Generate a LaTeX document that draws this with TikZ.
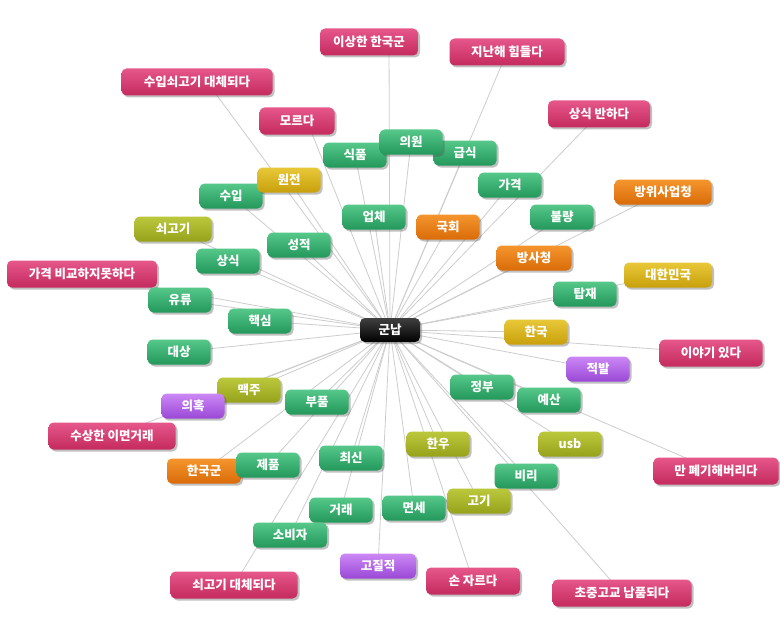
\documentclass[tikz,border=0pt]{standalone}
\usepackage{fontspec}
\setmainfont{Noto Sans CJK KR}
\usetikzlibrary{shadows,backgrounds}
\pgfdeclarelayer{bottom}
\pgfsetlayers{bottom,background,main}
\definecolor{gnT}{HTML}{55C88A}\definecolor{gnB}{HTML}{23985A}
\definecolor{pkT}{HTML}{E6578A}\definecolor{pkB}{HTML}{C42A5E}
\definecolor{orT}{HTML}{F5952E}\definecolor{orB}{HTML}{D96C08}
\definecolor{ylT}{HTML}{E8C838}\definecolor{ylB}{HTML}{C8A00C}
\definecolor{olT}{HTML}{BCC83C}\definecolor{olB}{HTML}{96A21A}
\definecolor{puT}{HTML}{CC88F5}\definecolor{puB}{HTML}{9A48D6}
\definecolor{edgegray}{HTML}{CDCDCD}
\tikzset{
  tag/.style={rounded corners=5pt, minimum height=25pt, minimum width=63pt, inner sep=2pt,
    text=white, font=\fontsize{12.5}{13}\selectfont\bfseries,
    drop shadow={shadow xshift=2pt, shadow yshift=-2pt, opacity=0.35, fill=black!70}},
  gn/.style={tag, top color=gnT, bottom color=gnB},
  pk/.style={tag, top color=pkT, bottom color=pkB, minimum height=27pt},
  orn/.style={tag, top color=orT, bottom color=orB},
  yl/.style={tag, top color=ylT, bottom color=ylB},
  ol/.style={tag, top color=olT, bottom color=olB},
  pu/.style={tag, top color=puT, bottom color=puB},
  hubstyle/.style={tag, top color=black!75, bottom color=black, minimum width=60pt, minimum height=24pt},
  link/.style={draw=edgegray, line width=0.8pt}
}
\begin{document}
\begin{tikzpicture}[x=1pt,y=-1pt]
\begin{pgfonlayer}{bottom}
\fill[white] (0,0) rectangle (780,618);
\end{pgfonlayer}
\useasboundingbox (0,0) rectangle (780,618);
% pink phrase nodes
\node[pk, minimum width=98pt]  (p1) at (369,42) {이상한 한국군};
\node[pk, minimum width=115pt] (p2) at (507,52) {지난해 힘들다};
\node[pk, minimum width=151pt] (p3) at (197,82) {수입쇠고기 대체되다};
\node[pk, minimum width=75pt]  (p4) at (297,121) {모르다};
\node[pk, minimum width=102pt] (p5) at (599,114) {상식 반하다};
\node[pk, minimum width=150pt] (p6) at (82,274) {가격 비교하지못하다};
\node[pk, minimum width=103pt] (p7) at (711,353) {이야기 있다};
\node[pk, minimum width=127pt] (p8) at (112,436) {수상한 이면거래};
\node[pk, minimum width=125pt] (p9) at (716,471) {만 폐기해버리다};
\node[pk, minimum width=94pt]  (p10) at (473,581) {손 자르다};
\node[pk, minimum width=127pt] (p11) at (234,585) {쇠고기 대체되다};
\node[pk, minimum width=139pt] (p12) at (622,593) {초중고교 납품되다};
% word nodes
\node[gn] (sikpum) at (355,155) {식품};
\node[gn] (geupsik) at (465,153) {급식};
\node[gn] (uiwon) at (411,142) {의원};
\node[gn] (suip) at (231,196) {수입};
\node[yl] (wonjeon) at (289,180) {원전};
\node[gn] (gagyeok) at (510,185) {가격};
\node[orn, minimum width=97pt] (bangwi) at (663,192) {방위사업청};
\node[gn] (eopche) at (374,217) {업체};
\node[orn] (gukhoe) at (448,227) {국회};
\node[gn] (bullyang) at (562,217) {불량};
\node[ol, minimum width=77pt] (soegogi) at (173,229) {쇠고기};
\node[gn] (seongjeok) at (299,245) {성적};
\node[gn] (sangsik) at (228,261) {상식};
\node[orn, minimum width=75pt] (bangsa) at (534,258) {방사청};
\node[yl, minimum width=88pt] (daehan) at (668,275) {대한민국};
\node[gn] (tapjae) at (585,294) {탑재};
\node[gn] (yuryu) at (180,300) {유류};
\node[gn] (haeksim) at (260,321) {핵심};
\node[yl] (hanguk) at (536,332) {한국};
\node[gn] (daesang) at (179,352) {대상};
\node[pu] (jeokbal) at (598,369) {적발};
\node[ol] (maekju) at (249,390) {맥주};
\node[pu] (uihok) at (193,406) {의혹};
\node[gn] (jeongbu) at (482,387) {정부};
\node[gn] (bupum) at (317,402) {부품};
\node[gn] (yesan) at (549,400) {예산};
\node[ol] (hanu) at (438,444) {한우};
\node[ol] (usb) at (570,444) {usb};
\node[gn] (choesin) at (351,458) {최신};
\node[orn, minimum width=74pt] (hangukgun) at (204,471) {한국군};
\node[gn] (jepum) at (268,465) {제품};
\node[gn] (biri) at (526,476) {비리};
\node[gn] (myeonse) at (414,508) {면세};
\node[ol] (gogi) at (479,501) {고기};
\node[gn] (georae) at (341,510) {거래};
\node[gn, minimum width=74pt] (sobija) at (290,535) {소비자};
\node[pu, minimum width=76pt] (gojil) at (378,566) {고질적};
% hub
\node[hubstyle] (hub) at (390,330) {군납};
% connectors
\begin{scope}[on background layer]
\draw[link] (hub.center) -- ([xshift=20pt]p1.center);
\draw[link] (hub.center) -- ([xshift=10pt]p3.center);
\draw[link] (hub.center) -- ([xshift=10pt]p4.center);
\foreach \n in {p2,p5,p6,p7,p8,p9,p10,p11,p12,sikpum,geupsik,uiwon,suip,wonjeon,gagyeok,bangwi,eopche,gukhoe,bullyang,soegogi,seongjeok,sangsik,bangsa,daehan,tapjae,yuryu,haeksim,hanguk,daesang,jeokbal,maekju,uihok,jeongbu,bupum,yesan,hanu,usb,choesin,hangukgun,jepum,biri,myeonse,gogi,georae,sobija,gojil}
  \draw[link] (hub.center) -- (\n.center);
\end{scope}
\end{tikzpicture}
\end{document}
